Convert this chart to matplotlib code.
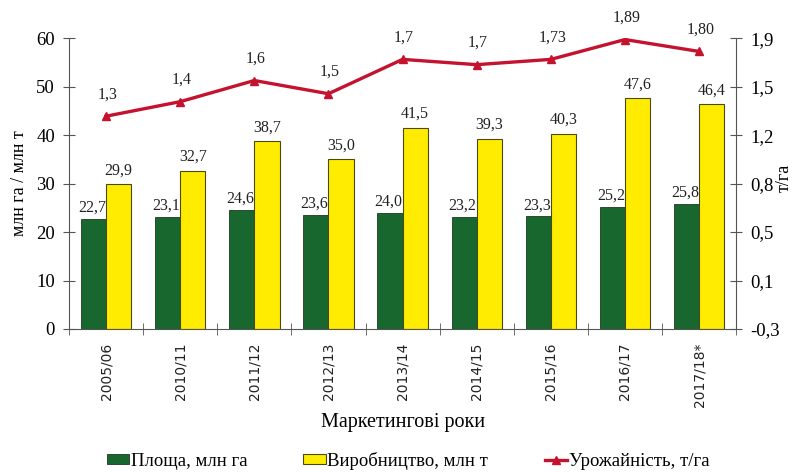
import matplotlib
matplotlib.use("Agg")
import matplotlib.pyplot as plt
import numpy as np
from matplotlib.lines import Line2D
from matplotlib.patches import Patch

years = ["2005/06", "2010/11", "2011/12", "2012/13", "2013/14", "2014/15", "2015/16", "2016/17", "2017/18*"]
area = [22.7, 23.1, 24.6, 23.6, 24.0, 23.2, 23.3, 25.2, 25.8]
production = [29.9, 32.7, 38.7, 35.0, 41.5, 39.3, 40.3, 47.6, 46.4]
yield_vals = [1.31, 1.42, 1.58, 1.48, 1.74, 1.70, 1.74, 1.89, 1.80]
yield_labels = ["1,3", "1,4", "1,6", "1,5", "1,7", "1,7", "1,73", "1,89", "1,80"]
left_ticks = [0, 10, 20, 30, 40, 50, 60]
right_tick_labels = ["-0,3", "0,1", "0,5", "0,8", "1,2", "1,5", "1,9"]

serif = "Liberation Serif"
green = "#17672f"
yellow = "#ffec00"
red = "#c4122f"
axcol = "#555555"

fig = plt.figure(figsize=(7.95, 4.72), dpi=100)
ax = fig.add_axes([0.0868, 0.303, 0.8392, 0.616])
x = np.arange(len(years))
w = 0.34

ax.bar(x - w/2, area, w, color=green, edgecolor="#1d3a1d", linewidth=0.6, zorder=2)
ax.bar(x + w/2, production, w, color=yellow, edgecolor="#4a4a10", linewidth=0.8, zorder=2)

for i in range(len(years)):
    ax.text(x[i] - w/2 - 0.02, area[i] + 0.6, f"{area[i]:.1f}".replace(".", ","),
            ha="center", va="bottom", fontsize=11.5, family=serif, color="#222222", zorder=3)
    ax.text(x[i] + w/2, production[i] + 1.2, f"{production[i]:.1f}".replace(".", ","),
            ha="center", va="bottom", fontsize=11.5, family=serif, color="#222222", zorder=3)

ax.set_xlim(-0.5, len(years) - 0.5)
ax.set_ylim(0, 60)
ax.set_yticks(left_ticks)
ax.set_yticklabels([str(t) for t in left_ticks], family=serif, fontsize=13.5)
ax.set_xticks(x)
ax.set_xticklabels(years, rotation=90, fontsize=10, family="DejaVu Sans", color="#222222")
ax.set_xticks(np.arange(len(years) + 1) - 0.5, minor=True)
ax.tick_params(axis="x", which="major", length=0, pad=10)
ax.tick_params(axis="x", which="minor", length=8, direction="inout", color=axcol)
ax.tick_params(axis="y", length=8, direction="inout", color=axcol, pad=6)
for s in ["top", "right"]:
    ax.spines[s].set_visible(False)
for s in ["left", "bottom"]:
    ax.spines[s].set_color(axcol)
ax.set_ylabel("млн га / млн т", family=serif, fontsize=13, labelpad=6)
ax.set_xlabel("Маркетингові роки", family=serif, fontsize=14.5, labelpad=4)

ax2 = ax.twinx()
ax2.set_ylim(-0.3, 1.9)
ax2.plot(x, yield_vals, color=red, linewidth=2.4, marker="^", markersize=6, zorder=4)
for i in range(len(years)):
    ax2.annotate(yield_labels[i], (x[i], yield_vals[i]), xytext=(1, 10), textcoords="offset points",
                 ha="center", va="bottom", fontsize=11.5, family=serif, color="#222222")
ax2.set_yticks(np.linspace(-0.3, 1.9, 7))
ax2.set_yticklabels(right_tick_labels, family=serif, fontsize=13.5)
ax2.tick_params(axis="y", length=8, direction="inout", color=axcol, pad=6)
for s in ["top", "left", "bottom"]:
    ax2.spines[s].set_visible(False)
ax2.spines["right"].set_color(axcol)
fig.text(0.986, 0.623, "т/га", rotation=90, family=serif, fontsize=13, ha="center", va="center")

handles = [Patch(facecolor=green, edgecolor="#1d3a1d", linewidth=0.6),
           Patch(facecolor=yellow, edgecolor="#4a4a10", linewidth=0.8),
           Line2D([0], [0], color=red, linewidth=2.4, marker="^", markersize=6)]
labels = ["Площа, млн га", "Виробництво, млн т", "Урожайність, т/га"]
fig.legend(handles, labels, loc="center", bbox_to_anchor=(0.513, 0.024), ncol=3, frameon=False,
           prop={"family": serif, "size": 13.5}, handlelength=1.2, handleheight=0.45,
           handletextpad=0.08, columnspacing=3.0)

fig.savefig("out.png", dpi=100)
